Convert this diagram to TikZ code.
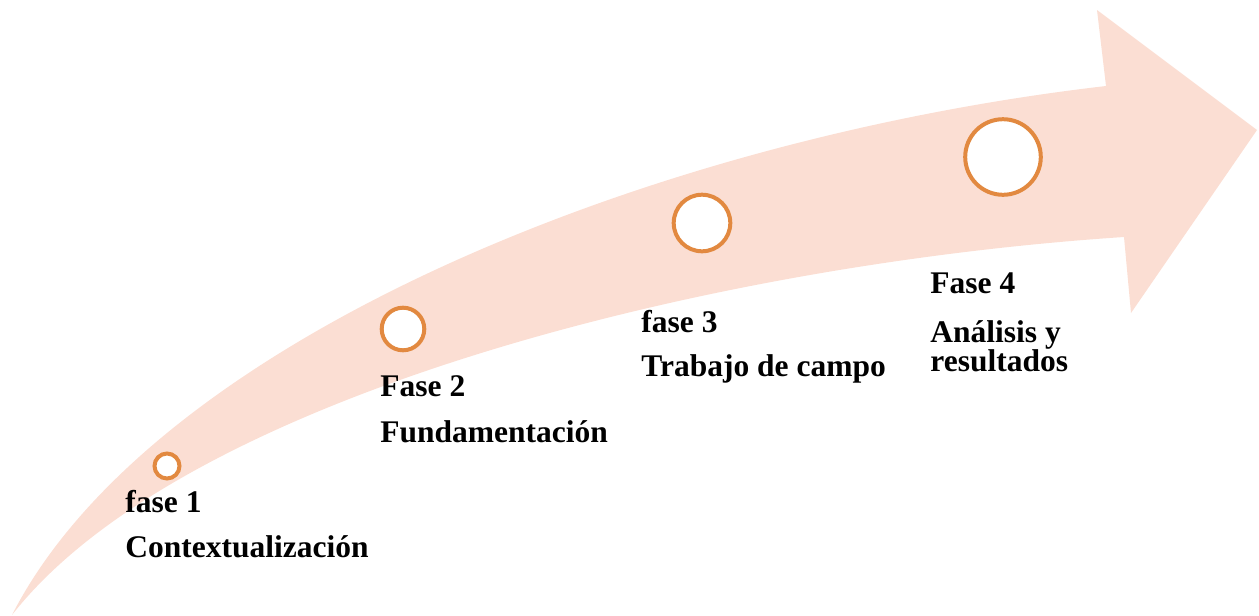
\documentclass[tikz,border=0pt]{standalone}
\usepackage{fontspec}
\setmainfont{Liberation Serif}
\definecolor{peach}{RGB}{251,222,211}
\definecolor{fasorange}{RGB}{226,137,64}
\tikzset{
         hito/.style={draw=fasorange,fill=white,shape=circle,line width=2pt,inner sep=0pt},
         etiqueta/.style={anchor=base west,inner sep=0pt,font=\fontsize{15.75}{18}\selectfont\bfseries}
        }

\begin{document}
\begin{tikzpicture}[x=0.5pt,y=-0.5pt]
\useasboundingbox (0,0) rectangle (1259,616);
\fill[peach](12,615) .. controls (150,345) and (640,140) .. (1106,86) -- (1097,10) -- (1257,130) -- (1131,313) -- (1124,237) .. controls (700,265) and (180,400) .. (12,615) -- cycle; % flecha

\node[hito,minimum size=12.5pt] (c1) at (167,466) {}; %fase 1
\node[hito,minimum size=21.3pt] (c2) at (403,329) {}; %fase 2
\node[hito,minimum size=28.3pt] (c3) at (702,223) {}; %fase 3
\node[hito,minimum size=37.8pt] (c4) at (1003,157) {}; %fase 4

%textos
\node[etiqueta] (f1) at (125,512) {fase 1};
\node[etiqueta] (f1b) at (125,557) {Contextualización};
\node[etiqueta] (f2) at (380,396) {Fase 2};
\node[etiqueta] (f2b) at (380,442) {Fundamentación};
\node[etiqueta] (f3) at (641,332) {fase 3};
\node[etiqueta] (f3b) at (641,376) {Trabajo de campo};
\node[etiqueta] (f4) at (930,293) {Fase 4};
\node[etiqueta] (f4b) at (930,342) {Análisis y};
\node[etiqueta] (f4c) at (930,371) {resultados};

\end{tikzpicture}
\end{document}
